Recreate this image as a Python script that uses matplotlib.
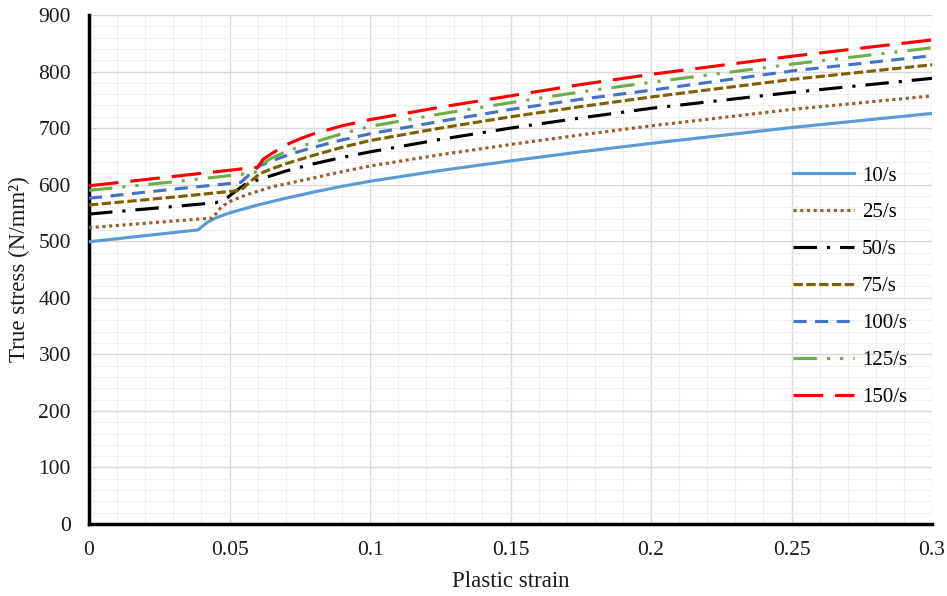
import matplotlib
matplotlib.use("Agg")
import matplotlib.pyplot as plt
from matplotlib.ticker import MultipleLocator

plt.rcParams['font.family'] = ['Liberation Serif', 'DejaVu Serif']

labels = ["10/s", "25/s", "50/s", "75/s", "100/s", "125/s", "150/s"]

x10 = [0, 0.0388, 0.042, 0.045, 0.05, 0.06, 0.07, 0.08, 0.09, 0.1, 0.125, 0.15, 0.175, 0.2, 0.25, 0.3]
y10 = [499, 520, 533, 541, 550, 564, 576, 587, 597, 606, 625, 642, 658, 673, 701, 726]

x25 = [0, 0.044, 0.047, 0.05, 0.056, 0.065, 0.08, 0.09, 0.1, 0.125, 0.15, 0.175, 0.2, 0.25, 0.3]
y25 = [524, 541, 560, 570, 582, 596, 612, 623, 633, 653, 671, 688, 704, 733, 757]

x50 = [0, 0.045, 0.0485, 0.052, 0.056, 0.063, 0.07, 0.08, 0.09, 0.1, 0.125, 0.15, 0.175, 0.2, 0.25, 0.3]
y50 = [548, 568, 574, 588, 602, 613, 624, 637, 648, 658, 680, 700, 718, 735, 763, 788]

x75 = [0, 0.03, 0.054, 0.058, 0.061, 0.065, 0.07, 0.08, 0.09, 0.1, 0.125, 0.15, 0.175, 0.2, 0.25, 0.3]
y75 = [564, 578, 590, 608, 620, 628, 637, 652, 666, 678, 700, 720, 738, 755, 786, 812]

x100 = [0, 0.03, 0.054, 0.058, 0.061, 0.065, 0.07, 0.075, 0.08, 0.09, 0.1, 0.125, 0.15, 0.175, 0.2, 0.25, 0.3]
y100 = [576, 592, 604, 622, 634, 642, 651, 659, 666, 679, 690, 712, 733, 751, 767, 801, 828]

x125 = [0, 0.03, 0.05, 0.059, 0.062, 0.065, 0.07, 0.075, 0.08, 0.09, 0.1, 0.125, 0.15, 0.175, 0.2, 0.25, 0.3]
y125 = [590, 605, 616, 621, 638, 647, 658, 667, 675, 690, 703, 725, 745, 764, 781, 813, 842]

x150 = [0, 0.02, 0.04, 0.06, 0.062, 0.065, 0.07, 0.075, 0.08, 0.09, 0.1, 0.125, 0.15, 0.175, 0.2, 0.25, 0.3]
y150 = [598, 609, 620, 631, 645, 655, 670, 681, 690, 704, 715, 737, 757, 777, 795, 827, 856]

xs = [x10, x25, x50, x75, x100, x125, x150]
ys = [y10, y25, y50, y75, y100, y125, y150]

colors = ["#5B9BD5", "#9E5A2E", "#000000", "#7F6000", "#4472C4", "#70AD47", "#FF0000"]
styles = ["-", (0, (1, 1.15)), (0, (7.5, 3.2, 1, 3.2)), (0, (3, 1.1)),
          (0, (4.2, 2.7)), (0, (7.5, 3.2, 1, 3.2, 1, 3.2)), (0, (9.5, 3.8))]

fig = plt.figure(figsize=(9.47, 5.96), dpi=100)
ax = fig.add_axes([89/947, 1 - 524/596, (932-89)/947, (524-15)/596])

for x, y, c, ls, lab in zip(xs, ys, colors, styles, labels):
    ax.plot(x, y, color=c, linestyle=ls, linewidth=2.25, label=lab, zorder=3)

ax.set_xlim(0, 0.3)
ax.set_ylim(0, 900)
ax.xaxis.set_major_locator(MultipleLocator(0.05))
ax.xaxis.set_minor_locator(MultipleLocator(0.01))
ax.yaxis.set_major_locator(MultipleLocator(100))
ax.yaxis.set_minor_locator(MultipleLocator(20))
ax.grid(which='major', color='#D9D9D9', linewidth=1.0, zorder=0)
ax.grid(which='minor', color='#EFEFEF', linewidth=0.8, zorder=0)
ax.set_axisbelow(True)

ax.set_xticks([0, 0.05, 0.1, 0.15, 0.2, 0.25, 0.3])
ax.set_xticklabels(["0", "0.05", "0.1", "0.15", "0.2", "0.25", "0.3"])
ax.tick_params(which='both', length=0, labelsize=15.5, colors='#1a1a1a')
ax.tick_params(axis='x', pad=12)
ax.tick_params(axis='y', pad=13)

for s in ['top', 'right']:
    ax.spines[s].set_visible(False)
for s in ['left', 'bottom']:
    ax.spines[s].set_color('black')
    ax.spines[s].set_linewidth(2.5)

ax.set_xlabel("Plastic strain", fontsize=16.5, color='#1a1a1a', labelpad=8)
ax.set_ylabel("True stress (N/mm²)", fontsize=16.5, color='#1a1a1a', labelpad=6)

leg = ax.legend(loc='upper left', bbox_to_anchor=((793-89)/843, (524-166)/509), frameon=False,
                fontsize=15, handlelength=2.95, labelspacing=0.83, handletextpad=0.35,
                borderpad=0, borderaxespad=0)

fig.savefig("out.png", dpi=100)
